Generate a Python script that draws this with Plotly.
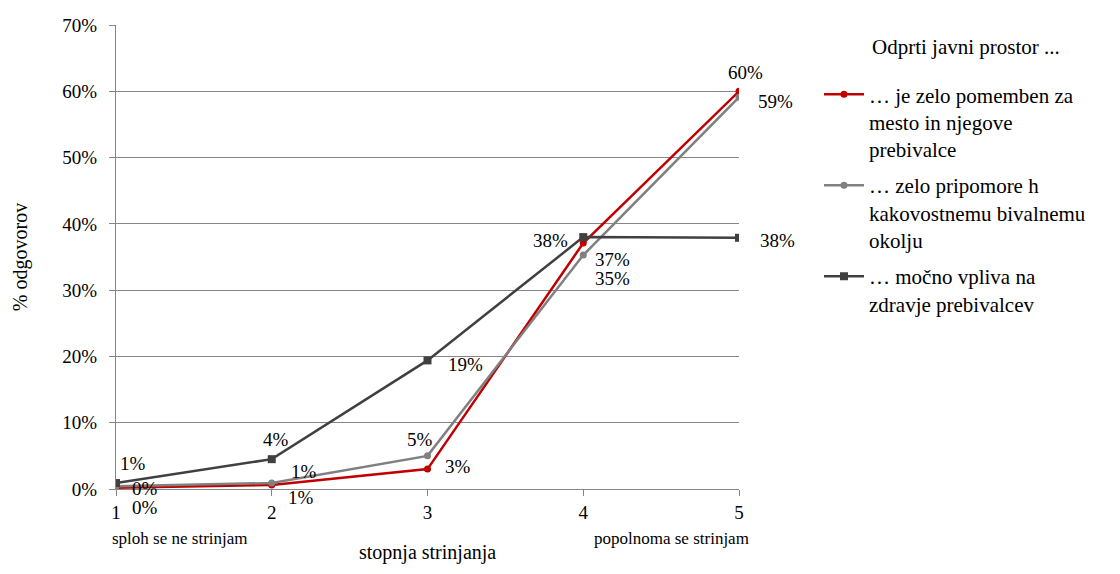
import plotly.graph_objects as go

categories = [1, 2, 3, 4, 5]
series_names = [
    "… je zelo pomemben za<br>mesto in njegove<br>prebivalce",
    "… zelo pripomore h<br>kakovostnemu bivalnemu<br>okolju",
    "… močno vpliva na<br>zdravje prebivalcev",
]
legend_title = "Odprti javni prostor ..."
x_title = "stopnja strinjanja"
pomemben = [0.2, 0.6, 3.0, 37.1, 60.0]
pripomore = [0.4, 0.9, 5.0, 35.3, 59.1]
zdravje = [0.9, 4.5, 19.4, 38.0, 37.9]
y_ticks = [0, 10, 20, 30, 40, 50, 60, 70]
y_tick_labels = ["0%", "10%", "20%", "30%", "40%", "50%", "60%", "70%"]

colors = ["#C00000", "#808080", "#404040"]
symbols = ["circle", "circle", "square"]
sizes = [7, 7, 8]
all_series = [pomemben, pripomore, zdravje]

# label offsets (pixels) per series per point
offsets = [
    [(29, -20), (29, -12), (30, 3), (29, -16), (6, 19)],
    [(29, -2), (32, 12), (-8, 16), (29, -23), (36, -4)],
    [(17, 20), (4, 20), (38, -4), (-33, -3), (38, -3)],
]

FONT = "Liberation Serif, Times New Roman, serif"
fig = go.Figure()
for i, (name, vals, c, s, sz) in enumerate(zip(series_names, all_series, colors, symbols, sizes)):
    fig.add_trace(go.Scatter(
        x=categories, y=vals, name=name, mode="lines+markers",
        legendgroup=f"g{i}",
        line=dict(color=c, width=2.5),
        marker=dict(symbol=s, size=sz, color=c),
    ))

annotations = []
for vals, offs in zip(all_series, offsets):
    for xv, yv, (dx, dy) in zip(categories, vals, offs):
        annotations.append(dict(
            x=xv, y=yv, xref="x", yref="y", text=f"{round(yv):.0f}%",
            showarrow=False, xshift=dx, yshift=dy,
            font=dict(family=FONT, size=19, color="#000000"),
        ))

annotations.append(dict(x=1, y=0, xref="x", yref="paper", text="sploh se ne strinjam",
                        showarrow=False, xanchor="left", yanchor="top", xshift=-6, yshift=-38,
                        font=dict(family=FONT, size=17, color="#000000")))
annotations.append(dict(x=5, y=0, xref="x", yref="paper", text="popolnoma se strinjam",
                        showarrow=False, xanchor="right", yanchor="top", xshift=12, yshift=-38,
                        font=dict(family=FONT, size=17, color="#000000")))
annotations.append(dict(x=0.5, y=0, xref="paper", yref="paper", text=x_title,
                        showarrow=False, xanchor="center", yanchor="middle", yshift=-63,
                        font=dict(family=FONT, size=20, color="#000000")))
annotations.append(dict(x=1.2103, y=0.9526, xref="paper", yref="paper", text=legend_title,
                        showarrow=False, xanchor="left", yanchor="middle",
                        font=dict(family=FONT, size=21, color="#000000")))

fig.update_layout(
    width=1104, height=558,
    margin=dict(l=108, r=373, t=17, b=77, autoexpand=False),
    paper_bgcolor="white", plot_bgcolor="white",
    font=dict(family=FONT, size=19, color="#000000"),
    annotations=annotations,
    showlegend=True,
    legend=dict(
        x=1.1284, y=0.894, xanchor="left", yanchor="top",
        font=dict(family=FONT, size=21, color="#000000"),
        tracegroupgap=6, itemwidth=40, valign="top",
    ),
    xaxis=dict(
        range=[1, 5], tickvals=categories, ticktext=[str(c) for c in categories],
        showgrid=False, showline=True, linecolor="#868686", linewidth=1,
        ticks="outside", ticklen=6, tickcolor="#868686",
        tickfont=dict(family=FONT, size=19), automargin=False,
        zeroline=False,
    ),
    yaxis=dict(
        range=[0, 70], tickvals=y_ticks, ticktext=y_tick_labels,
        showgrid=True, gridcolor="#868686", gridwidth=1,
        showline=True, linecolor="#868686", linewidth=1,
        ticks="outside", ticklen=6, tickcolor="#868686", ticklabelstandoff=8,
        tickfont=dict(family=FONT, size=19), automargin=False,
        title=dict(text="% odgovorov", font=dict(family=FONT, size=20), standoff=29),
        zeroline=False,
    ),
)
fig.write_html("out.html")
